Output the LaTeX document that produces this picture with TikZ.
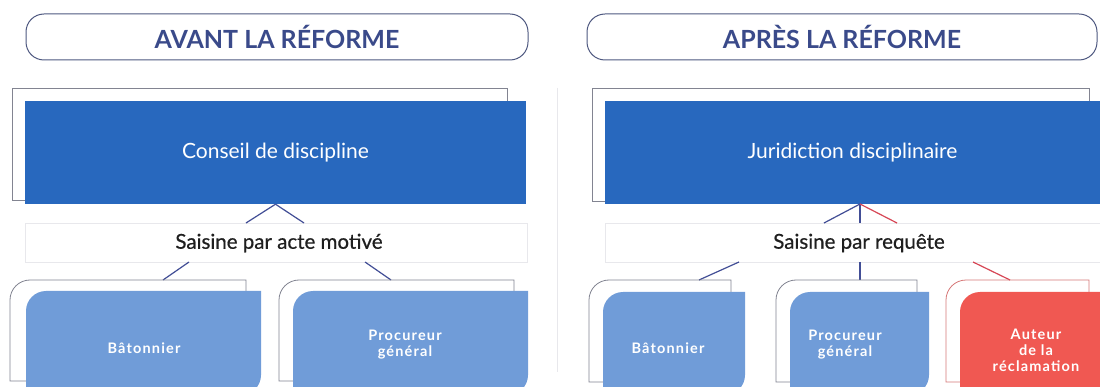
\documentclass[tikz,border=0pt]{standalone}
\usepackage{fontspec}
\setmainfont{Lato}
\definecolor{dblue}{RGB}{40,104,190}
\definecolor{lblue}{RGB}{112,156,216}
\definecolor{rred}{RGB}{240,88,82}
\definecolor{ttl}{RGB}{58,74,138}
\definecolor{pillc}{RGB}{78,88,128}
\definecolor{frm}{RGB}{130,132,145}
\definecolor{frmred}{RGB}{215,120,120}
\definecolor{lnk}{RGB}{66,78,150}
\definecolor{lnkred}{RGB}{215,70,85}
\definecolor{band}{RGB}{232,232,236}
\tikzset{
  pillbox/.style={draw=pillc, line width=1pt, rounded corners=18pt, minimum height=46pt, inner sep=0pt,
    font=\fontsize{25}{29}\selectfont\bfseries, text=ttl},
  bigbox/.style={fill=dblue, inner sep=0pt, text=white, font=\fontsize{21}{25}\selectfont},
  bandtext/.style={text=black!88, font=\fontsize{20.5}{24}\selectfont\addfontfeature{FakeBold=0.6}, inner sep=0pt},
  frameline/.style={draw=frm, line width=0.8pt},
  smalltext/.style={text=white, font=\fontsize{14.5}{16}\selectfont\bfseries\addfontfeature{LetterSpace=8}, align=center, inner sep=0pt},
  link/.style={draw=lnk, line width=1.2pt},
  linkred/.style={draw=lnkred, line width=1.2pt},
  bandbox/.style={draw=band, line width=0.8pt}
}
\begin{document}
\begin{tikzpicture}[x=1pt,y=-1pt]
\useasboundingbox[fill=white] (0,0) rectangle (1100,387);

% separator
\draw[draw=band, line width=0.8pt] (557,88) -- (557,372);

% ===== titles
\node[pillbox, minimum width=502pt] (tl) at (277,37) {AVANT LA RÉFORME};
\node[pillbox, minimum width=510pt] (tr) at (842,37) {APRÈS LA RÉFORME};

% ===== top boxes
\draw[frameline] (12,88) rectangle (507,200);
\node[bigbox, minimum width=501pt, minimum height=103pt] (cd) at (275.5,152.5) {Conseil de discipline};
\draw[frameline] (592,88) rectangle (1089,201);
\node[bigbox, minimum width=495pt, minimum height=103pt] (jd) at (852.5,152.5) {Juridiction disciplinaire};

% ===== bands
\draw[bandbox] (25,223) rectangle (527,262);
\node[bandtext] (sl) at (279,243) {Saisine par acte motivé};
\draw[bandbox] (605,223) rectangle (1112,262);
\node[bandtext] (sr) at (859,243) {Saisine par requête};

% ===== connector coordinates
\coordinate (la1) at (246,223);
\coordinate (la2) at (304,223);
\coordinate (lb1) at (189,262);
\coordinate (lb2) at (365,262);
\coordinate (lc1) at (163,280);
\coordinate (lc2) at (391,280);

\coordinate (ra1) at (824,223);
\coordinate (ra2) at (860,223);
\coordinate (ra3) at (897,223);
\coordinate (rb1) at (739,262);
\coordinate (rb2) at (860,262);
\coordinate (rb3) at (973,262);
\coordinate (rc1) at (699,280);
\coordinate (rc2) at (860,280);
\coordinate (rc3) at (1010,280);

\draw[link] (cd.south) -- (la1);
\draw[link] (cd.south) -- (la2);
\draw[link] (lb1) -- (lc1);
\draw[link] (lb2) -- (lc2);

\coordinate (jds) at (860,204);
\draw[link] (jds) -- (ra1);
\draw[link] (jds) -- (ra2);
\draw[linkred] (jds) -- (ra3);
\draw[link] (rb1) -- (rc1);
\draw[link] (rb2) -- (rc2);
\draw[linkred] (rb3) -- (rc3);

% ===== lower boxes (left)
\draw[frameline] (26,381) -- (10,381) -- (10,300) arc[start angle=180,end angle=270,radius=20] -- (246,280) -- (246,291);
\fill[lblue] (26,400) -- (26,311) arc[start angle=180,end angle=270,radius=20] -- (261,291) -- (261,375) arc[start angle=0,end angle=90,radius=20] -- cycle;
\node[smalltext] (bat1) at (144,348) {Bâtonnier};

\draw[frameline] (293,381) -- (279,381) -- (279,300) arc[start angle=180,end angle=270,radius=20] -- (514,280) -- (514,291);
\fill[lblue] (293,400) -- (293,311) arc[start angle=180,end angle=270,radius=20] -- (528,291) -- (528,375) arc[start angle=0,end angle=90,radius=20] -- cycle;
\node[smalltext] (pg1) at (405,345) {Procureur\\général};

% ===== lower boxes (right)
\draw[frameline] (603,382) -- (589,382) -- (589,300) arc[start angle=180,end angle=270,radius=20] -- (731,280) -- (731,292);
\fill[lblue] (603,400) -- (603,312) arc[start angle=180,end angle=270,radius=20] -- (745,292) -- (745,375) arc[start angle=0,end angle=90,radius=20] -- cycle;
\node[smalltext] (bat2) at (668,348) {Bâtonnier};

\draw[frameline] (790,382) -- (776,382) -- (776,300) arc[start angle=180,end angle=270,radius=20] -- (917,280) -- (917,292);
\fill[lblue] (790,400) -- (790,312) arc[start angle=180,end angle=270,radius=20] -- (929,292) -- (929,375) arc[start angle=0,end angle=90,radius=20] -- cycle;
\node[smalltext] (pg2) at (845,345) {Procureur\\général};

\draw[draw=frmred, line width=0.8pt] (960,382) -- (946,382) -- (946,300) arc[start angle=180,end angle=270,radius=20] -- (1089,280) -- (1089,292);
\fill[rred] (960,400) -- (960,312) arc[start angle=180,end angle=270,radius=20] -- (1104,292) -- (1104,400) -- cycle;
\node[smalltext] (aut) at (1036,350) {Auteur\\de la\\réclamation};
\end{tikzpicture}
\end{document}
